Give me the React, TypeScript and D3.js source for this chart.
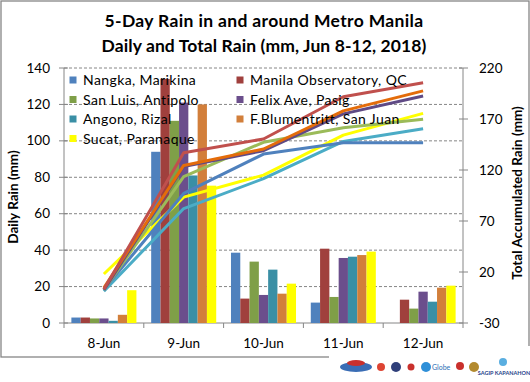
import React from "react";
import * as d3 from "d3";

const categories = ["8-Jun", "9-Jun", "10-Jun", "11-Jun", "12-Jun"];
const seriesNames = [
  "Nangka, Marikina",
  "Manila Observatory, QC",
  "San Luis, Antipolo",
  "Felix Ave, Pasig",
  "Angono, Rizal",
  "F.Blumentritt, San Juan",
  "Sucat, Paranaque",
];
// daily rain (mm), per series, per day
const nangkaDaily = [3, 94, 38.6, 11.2, 0];
const manilaObsDaily = [3, 134, 13.4, 40.8, 12.8];
const sanLuisDaily = [2.5, 111, 33.7, 14.3, 7.9];
const felixDaily = [2.5, 121, 15.4, 35.7, 17.2];
const angonoDaily = [1.2, 81, 29.3, 36.4, 11.7];
const blumentrittDaily = [4.5, 120, 16.1, 37.3, 19.4];
const sucatDaily = [18, 75.4, 21.6, 39.2, 20.5];
// total accumulated rain (mm), right axis
const nangkaTotal = [3, 97, 135.6, 146.8, 146.8];
const manilaObsTotal = [3, 137, 150.4, 191.8, 205.5];
const sanLuisTotal = [2.5, 113.5, 147.2, 161.5, 169.8];
const felixTotal = [2.5, 123.5, 138.9, 175, 192.5];
const angonoTotal = [1.2, 82.2, 111.5, 148, 160.5];
const blumentrittTotal = [4.5, 124.5, 140.6, 178, 197.6];
const sucatTotal = [18, 93.4, 115, 154.2, 175.5];

const leftTicks = [0, 20, 40, 60, 80, 100, 120, 140];
const rightTicks = [-30, 20, 70, 120, 170, 220];

const daily = [nangkaDaily, manilaObsDaily, sanLuisDaily, felixDaily, angonoDaily, blumentrittDaily, sucatDaily];
const totals = [nangkaTotal, manilaObsTotal, sanLuisTotal, felixTotal, angonoTotal, blumentrittTotal, sucatTotal];

const barColors = ["#4F81BD", "#A0403D", "#7F9F48", "#6B4E8C", "#3A8FA5", "#D27F3B", "#FFFF00"];
const lineColors = ["#4F81BD", "#C0504D", "#9BBB59", "#5F4A85", "#4BACC6", "#E46C0A", "#FFFF00"];
// drawing order of lines
const lineOrder = [6, 4, 0, 2, 3, 5, 1];

const FONT = "Lato, 'Open Sans', sans-serif";

export default function App() {
  const left = 64, right = 463, top = 68, bottom = 323;
  const x = d3.scaleBand<string>().domain(categories).range([left, right]).paddingInner(0.185).paddingOuter(0.0925);
  const xs = d3.scaleBand<number>().domain(d3.range(seriesNames.length)).range([0, x.bandwidth()]);
  const yL = d3.scaleLinear().domain([0, 140]).range([bottom, top]);
  const yR = d3.scaleLinear().domain([-30, 220]).range([bottom, top]);
  const step = (right - left) / categories.length;
  const line = d3.line<number>()
    .x((_, i) => (x(categories[i]) as number) + x.bandwidth() / 2)
    .y((v) => yR(v));

  const legendPos = (i: number) => {
    const col = i % 2, row = Math.floor(i / 2);
    return { lx: col === 0 ? 73 : 240, ly: 80 + row * 19.5 };
  };

  return (
    <svg width={530} height={382} style={{ position: "absolute", left: 0, top: 0, background: "#fff" }} fontFamily={FONT}>
      <rect x={0} y={0} width={530} height={382} fill="#fff" />
      <rect x={1} y={1} width={528} height={356} fill="#fff" stroke="#868686" strokeWidth={1.3} />
      {/* logos strip background (covers lower right of the frame) */}
      <rect x={329} y={346} width={201} height={36} fill="#fff" />
      {/* title */}
      <text x={264} y={27} textAnchor="middle" fontSize={17.5} fontWeight="bold" letterSpacing={0.35} fill="#000">5-Day Rain in and around Metro Manila</text>
      <text x={264} y={52} textAnchor="middle" fontSize={17.5} fontWeight="bold" letterSpacing={0.1} fill="#000">Daily and Total Rain (mm, Jun 8-12, 2018)</text>
      {/* gridlines */}
      {leftTicks.filter((t) => t > 0).map((t) => (
        <line key={t} x1={left} x2={right} y1={yL(t)} y2={yL(t)} stroke="#868686" strokeWidth={1} strokeDasharray="3,2" />
      ))}
      {/* axes */}
      <line x1={left} x2={left} y1={top} y2={bottom} stroke="#868686" />
      <line x1={right} x2={right} y1={top} y2={bottom} stroke="#868686" />
      <line x1={left} x2={right} y1={bottom} y2={bottom} stroke="#868686" />
      {leftTicks.map((t) => (
        <g key={t}>
          <line x1={left - 5} x2={left + 4} y1={yL(t)} y2={yL(t)} stroke="#868686" />
          <text x={50} y={yL(t) + 4.5} textAnchor="end" fontSize={13.5} fill="#000">{t}</text>
        </g>
      ))}
      {rightTicks.map((t) => (
        <g key={t}>
          <line x1={right - 4} x2={right + 5} y1={yR(t)} y2={yR(t)} stroke="#868686" />
          <text x={479} y={yR(t) + 4.5} textAnchor="start" fontSize={13.5} fill="#000">{t}</text>
        </g>
      ))}
      {d3.range(categories.length + 1).map((i) => (
        <line key={i} x1={left + i * step} x2={left + i * step} y1={bottom} y2={bottom + 5} stroke="#868686" />
      ))}
      {categories.map((c) => (
        <text key={c} x={(x(c) as number) + x.bandwidth() / 2} y={348} textAnchor="middle" fontSize={13.5} fill="#000">{c}</text>
      ))}
      <text transform={`translate(18,197) rotate(-90)`} textAnchor="middle" fontSize={13.5} fontWeight="bold" fill="#000">Daily Rain (mm)</text>
      <text transform={`translate(522,193) rotate(-90)`} textAnchor="middle" fontSize={13.5} fontWeight="bold" fill="#000">Total Accumulated Rain (mm)</text>
      {/* bars */}
      {daily.map((vals, s) => (
        <g key={s}>
          {vals.map((v, i) => v > 0 && (
            <rect key={i} x={(x(categories[i]) as number) + (xs(s) as number)} y={yL(v)} width={xs.bandwidth()} height={bottom - yL(v)} fill={barColors[s]} />
          ))}
        </g>
      ))}
      {/* lines */}
      {lineOrder.map((s) => (
        <path key={s} d={line(totals[s]) as string} fill="none" stroke={lineColors[s]} strokeWidth={3} strokeLinejoin="round" />
      ))}
      {/* legend */}
      {seriesNames.map((n, i) => {
        const { lx, ly } = legendPos(i);
        return (
          <g key={n}>
            <rect x={lx - 3.5} y={ly - 3.5} width={7} height={7} fill={barColors[i]} />
            <text x={lx + 10} y={ly + 5} fontSize={14} letterSpacing={0.4} fill="#000">{n}</text>
          </g>
        );
      })}
      {/* logos */}
      <ellipse cx={356} cy={367} rx={16} ry={5} fill="#3a6db5" />
      <ellipse cx={356} cy={363} rx={9} ry={3} fill="#c9302c" />
      <circle cx={381} cy={367} r={4} fill="#d43" />
      <circle cx={396} cy={367} r={5} fill="#2f3f7a" />
      <circle cx={411} cy={367} r={3.5} fill="#c9302c" />
      <circle cx={426} cy={367} r={5} fill="#2e8fd8" />
      <text x={432} y={370} fontSize={7} fill="#2e6fb5">Globe</text>
      <circle cx={460} cy={366} r={4} fill="#c9302c" />
      <circle cx={474} cy={367} r={5} fill="#b38a2e" />
      <circle cx={503} cy={362} r={4} fill="#5aaee0" />
      <text x={504} y={375} fontSize={5.5} fontWeight="bold" textAnchor="middle" fill="#1f3f8a">SAGIP KAPANAHON</text>
    </svg>
  );
}
